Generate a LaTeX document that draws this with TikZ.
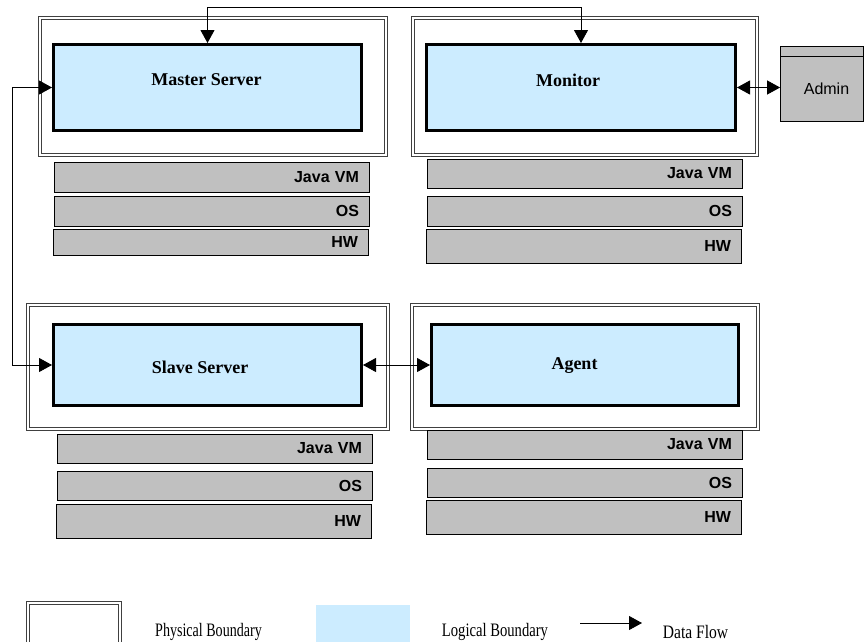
\documentclass[tikz,border=0pt]{standalone}
\usepackage{fontspec}
\usepackage{graphicx}
\setmainfont{Liberation Serif}
\setsansfont{Liberation Sans}
\usetikzlibrary{arrows.meta}
\definecolor{logicblue}{RGB}{204,236,255}
\definecolor{layergray}{RGB}{192,192,192}
\tikzstyle{physical}=[rectangle,draw=black!75,double=white,double distance=2pt,line width=0.7pt,inner sep=0pt]
\tikzstyle{logical}=[rectangle,draw,fill=logicblue,line width=3pt,inner sep=0pt]
\tikzstyle{title}=[font=\bfseries\fontsize{18}{20}\selectfont]
\tikzstyle{layer}=[rectangle,draw,fill=layergray,line width=0.8pt,inner xsep=10pt,inner ysep=0pt,text width=295pt,align=right,font=\sffamily\bfseries\fontsize{16}{18}\selectfont]
\tikzstyle{legend}=[font=\fontsize{19}{21}\selectfont]
\tikzstyle{flow}=[line width=0.9pt]

\begin{document}
\begin{tikzpicture}[x=1pt,y=-1pt,>={Triangle[length=13pt,width=14pt]}]
  \useasboundingbox (0,0) rectangle (864,641);
  % physical boundaries
  \node[physical,minimum width=346,minimum height=137] (physmaster) at (213,86.5) {};
  \node[physical,minimum width=344,minimum height=137] (physmonitor) at (585,86.5) {};
  \node[physical,minimum width=360,minimum height=124] (physslave) at (208,367) {};
  \node[physical,minimum width=346,minimum height=124] (physagent) at (585,367) {};
  % logical boundaries
  \node[logical,minimum width=308,minimum height=86] (master) at (207.5,87.5) {};
  \node[title] (mastertxt) at ([shift={(-1,-7.5)}]master.center) {Master Server};
  \node[logical,minimum width=309,minimum height=86] (monitor) at (581,87.5) {};
  \node[title] (monitortxt) at ([shift={(-13,-7.5)}]monitor.center) {Monitor};
  \node[logical,minimum width=308,minimum height=81] (slave) at (207.5,365) {};
  \node[title] (slavetxt) at ([shift={(-7.5,2)}]slave.center) {Slave Server};
  \node[logical,minimum width=307,minimum height=81] (agent) at (585,365) {};
  \node[title] (agenttxt) at ([shift={(-10.5,1)}]agent.center) {Agent};
  % admin
  \node[rectangle,draw,fill=layergray,line width=0.8pt,minimum width=83,minimum height=75] (admin) at (822,83.5) {};
  \draw[line width=0.8pt] ([yshift=-11pt]admin.north west) -- ([yshift=-11pt]admin.north east);
  \node[font=\sffamily\fontsize{16}{18}\selectfont] (admintxt) at ([shift={(4.5,5.5)}]admin.center) {Admin};
  % layers
  \node[layer,minimum height=30] (masterjvm) at (211.5,177) {Java VM};
  \node[layer,minimum height=30] (masteros) at (211.5,211) {OS};
  \node[layer,minimum height=26] (masterhw) at (210.5,242) {HW};
  \node[layer,minimum height=29] (monitorjvm) at (584.5,173.5) {Java VM};
  \node[layer,minimum height=30] (monitoros) at (584.5,211) {OS};
  \node[layer,minimum height=34] (monitorhw) at (583.5,246) {HW};
  \node[layer,minimum height=29] (slavejvm) at (214.5,448.5) {Java VM};
  \node[layer,minimum height=29] (slaveos) at (214.5,485.5) {OS};
  \node[layer,minimum height=34] (slavehw) at (213.5,521) {HW};
  \node[layer,minimum height=29] (agentjvm) at (584.5,444.5) {Java VM};
  \node[layer,minimum height=29] (agentos) at (584.5,482.5) {OS};
  \node[layer,minimum height=34] (agenthw) at (583.5,517) {HW};
  % data flows
  \coordinate (toprail) at (0,7);
  \coordinate (leftrail) at (12,0);
  \draw[flow,<->] (master.north) -- (master.north |- toprail) -| (monitor.north);
  \draw[flow,<->] (master.west) -- (master.west -| leftrail) |- (slave.west);
  \draw[flow,<->] (slave.east) -- (agent.west);
  \draw[flow,<->] (monitor.east) -- (monitor.east -| admin.west);
  % legend
  \node[physical,minimum width=92,minimum height=46] (legphys) at (74,626) {};
  \node[legend] (legphystxt) at (208.5,631.5) {\scalebox{0.74}[1]{Physical Boundary}};
  \node[rectangle,fill=logicblue,minimum width=94,minimum height=46] (leglogic) at (363,628) {};
  \node[legend] (leglogictxt) at (495,631.5) {\scalebox{0.77}[1]{Logical Boundary}};
  \coordinate (legflow) at (580,623);
  \coordinate (legflowend) at (642,623);
  \node[legend] (legflowtxt) at (695.5,631.5) {\scalebox{0.82}[1]{Data Flow}};
  \draw[flow,->] (legflow) -- (legflowend);
\end{tikzpicture}
\end{document}
